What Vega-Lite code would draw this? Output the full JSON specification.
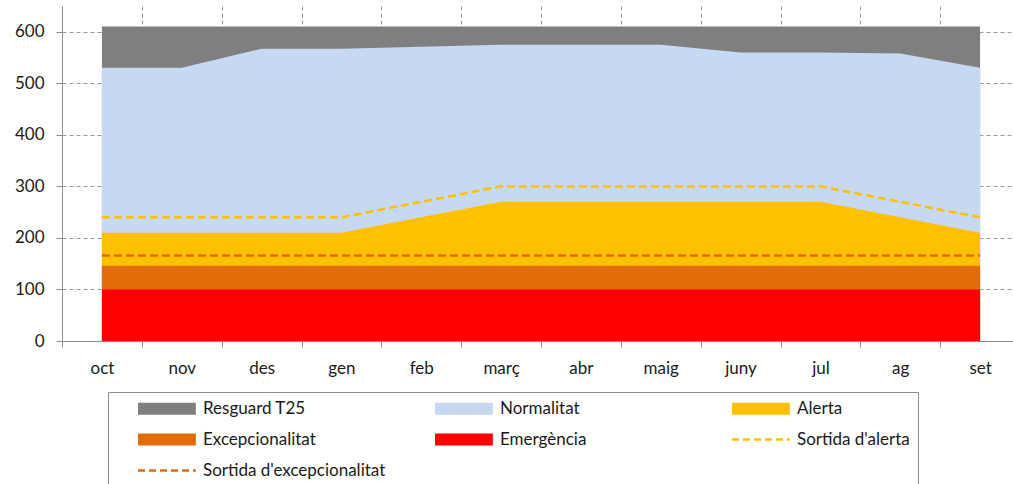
{
  "$schema": "https://vega.github.io/schema/vega-lite/v6.json",
  "width": 958,
  "height": 335,
  "autosize": {"type": "none"},
  "padding": {"left": 62, "top": 6, "right": 0, "bottom": 143},
  "background": "white",
  "config": {
    "view": {"stroke": null},
    "font": "Lato",
    "axis": {
      "labelFont": "Lato",
      "labelFontSize": 17,
      "labelColor": "#1a1a1a",
      "domainColor": "#8c8c8c",
      "tickColor": "#8c8c8c",
      "tickSize": 6,
      "gridColor": "#9a9a9a",
      "gridDash": [4, 3],
      "gridWidth": 1,
      "title": null
    }
  },
  "data": {
    "values": [
      {"m": "oct", "res": 610, "nor": 530, "ale": 210, "exc": 146, "eme": 100, "sal": 240, "sex": 166},
      {"m": "nov", "res": 610, "nor": 530, "ale": 210, "exc": 146, "eme": 100, "sal": 240, "sex": 166},
      {"m": "des", "res": 610, "nor": 567, "ale": 210, "exc": 146, "eme": 100, "sal": 240, "sex": 166},
      {"m": "gen", "res": 610, "nor": 567, "ale": 210, "exc": 146, "eme": 100, "sal": 240, "sex": 166},
      {"m": "feb", "res": 610, "nor": 571, "ale": 240, "exc": 146, "eme": 100, "sal": 270, "sex": 166},
      {"m": "març", "res": 610, "nor": 575, "ale": 270, "exc": 146, "eme": 100, "sal": 300, "sex": 166},
      {"m": "abr", "res": 610, "nor": 575, "ale": 270, "exc": 146, "eme": 100, "sal": 300, "sex": 166},
      {"m": "maig", "res": 610, "nor": 575, "ale": 270, "exc": 146, "eme": 100, "sal": 300, "sex": 166},
      {"m": "juny", "res": 610, "nor": 560, "ale": 270, "exc": 146, "eme": 100, "sal": 300, "sex": 166},
      {"m": "jul", "res": 610, "nor": 560, "ale": 270, "exc": 146, "eme": 100, "sal": 300, "sex": 166},
      {"m": "ag", "res": 610, "nor": 558, "ale": 240, "exc": 146, "eme": 100, "sal": 270, "sex": 166},
      {"m": "set", "res": 610, "nor": 530, "ale": 210, "exc": 146, "eme": 100, "sal": 240, "sex": 166}
    ]
  },
  "transform": [
    {"fold": ["res", "nor", "ale", "exc", "eme", "sal", "sex"], "as": ["k", "v"]}
  ],
  "encoding": {
    "x": {
      "field": "m",
      "type": "ordinal",
      "sort": ["oct", "nov", "des", "gen", "feb", "març", "abr", "maig", "juny", "jul", "ag", "set"],
      "bandPosition": 0.5,
      "scale": {"type": "band", "paddingInner": 0, "paddingOuter": 0},
      "axis": {"title": null, "labelAngle": 0, "grid": true, "tickBand": "extent", "labelPadding": 13, "domain": true}
    },
    "y": {
      "field": "v",
      "type": "quantitative",
      "title": null,
      "stack": null,
      "scale": {"domain": [0, 650], "nice": false},
      "axis": {"title": null, "grid": true, "labelPadding": 12, "values": [0, 100, 200, 300, 400, 500, 600]}
    },
    "color": {
      "field": "k",
      "type": "nominal",
      "scale": {
        "domain": ["res", "nor", "ale", "exc", "eme", "sal", "sex"],
        "range": ["#7f7f7f", "#c6d9f0", "#ffc000", "#e36c0a", "#ff0000", "#ffc000", "#e36c0a"]
      },
      "legend": {
        "orient": "none",
        "legendX": 46,
        "legendY": 386,
        "direction": "horizontal",
        "columns": 3,
        "gridAlign": "all",
        "columnPadding": 44,
        "rowPadding": 13,
        "title": " ",
        "titleOrient": "left",
        "titleFontSize": 4,
        "titlePadding": 20,
        "symbolType": "M-1,-0.92H7.9V0.92H-1Z",
        "symbolSize": 169,
        "symbolStrokeWidth": 2.5,
        "labelOffset": 50,
        "labelFont": "Lato",
        "labelFontSize": 17,
        "labelColor": "#1a1a1a",
        "labelLimit": 400,
        "labelExpr": "datum.label == 'res' ? 'Resguard T25' : datum.label == 'nor' ? 'Normalitat' : datum.label == 'ale' ? 'Alerta' : datum.label == 'exc' ? 'Excepcionalitat' : datum.label == 'eme' ? 'Emergència' : datum.label == 'sal' ? \"Sortida d'alerta\" : \"Sortida d'excepcionalitat\"",
        "strokeColor": "#8c8c8c",
        "fillColor": "white",
        "padding": 8,
        "encode": {
          "symbols": {
            "update": {
              "shape": {"signal": "(datum.value == 'sal' || datum.value == 'sex') ? 'M-1,0H7.9' : 'M-1,-0.92H7.9V0.92H-1Z'"},
              "size": {"value": 169},
              "strokeDash": {"signal": "(datum.value == 'sal' || datum.value == 'sex') ? [7, 4] : [1, 0]"},
              "strokeWidth": {"signal": "(datum.value == 'sal' || datum.value == 'sex') ? 2.5 : 0"},
              "opacity": {"value": 1},
              "fillOpacity": {"value": 1},
              "strokeOpacity": {"value": 1}
            }
          }
        }
      }
    }
  },
  "layer": [
    {"transform": [{"filter": {"field": "k", "equal": "res"}}], "mark": {"type": "area", "opacity": 1}},
    {"transform": [{"filter": {"field": "k", "equal": "nor"}}], "mark": {"type": "area", "opacity": 1}},
    {"transform": [{"filter": {"field": "k", "equal": "ale"}}], "mark": {"type": "area", "opacity": 1}},
    {"transform": [{"filter": {"field": "k", "equal": "exc"}}], "mark": {"type": "area", "opacity": 1}},
    {"transform": [{"filter": {"field": "k", "equal": "eme"}}], "mark": {"type": "area", "opacity": 1}},
    {"transform": [{"filter": {"field": "k", "oneOf": ["sal", "sex"]}}], "mark": {"type": "line", "strokeDash": [8, 4], "strokeWidth": 2.5}}
  ]
}
